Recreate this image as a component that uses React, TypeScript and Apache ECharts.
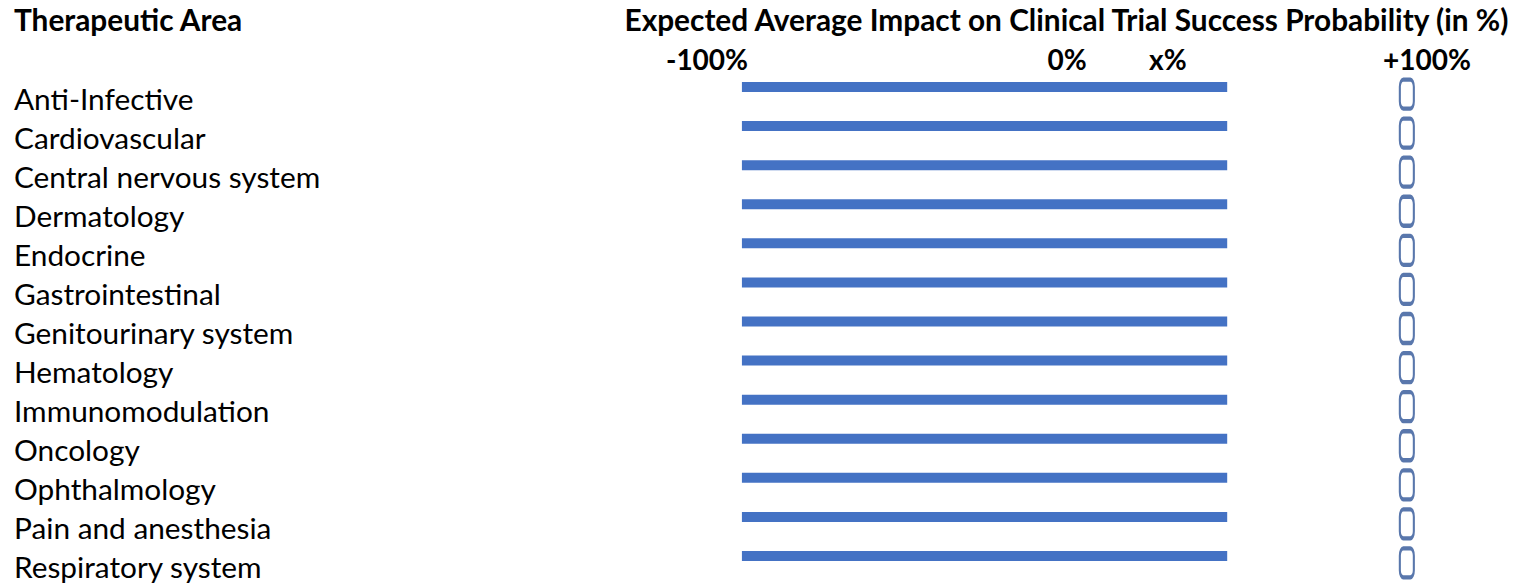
import React, { useEffect, useRef } from "react";
import * as echarts from "echarts";

const categories = [
  "Anti-Infective",
  "Cardiovascular",
  "Central nervous system",
  "Dermatology",
  "Endocrine",
  "Gastrointestinal",
  "Genitourinary system",
  "Hematology",
  "Immunomodulation",
  "Oncology",
  "Ophthalmology",
  "Pain and anesthesia",
  "Respiratory system",
];
const barStart = [-90.3, -90.3, -90.3, -90.3, -90.3, -90.3, -90.3, -90.3, -90.3, -90.3, -90.3, -90.3, -90.3];
const barEnd = [44.5, 44.5, 44.5, 44.5, 44.5, 44.5, 44.5, 44.5, 44.5, 44.5, 44.5, 44.5, 44.5];
const markerValues = [94.4, 94.4, 94.4, 94.4, 94.4, 94.4, 94.4, 94.4, 94.4, 94.4, 94.4, 94.4, 94.4];
const tickValues = [-100, 0, 28, 100];
const tickLabels = ["-100%", "0%", "x%", "+100%"];

const FONT = "Lato";

export default function App() {
  const ref = useRef<HTMLDivElement>(null);
  useEffect(() => {
    if (!ref.current) return;
    const chart = echarts.init(ref.current, null, { renderer: "svg" });
    chart.setOption({
      animation: false,
      backgroundColor: "#ffffff",
      title: [
        {
          text: "Therapeutic Area",
          left: 14,
          top: 4,
          padding: 0,
          textStyle: { fontFamily: FONT, fontSize: 29.8, fontWeight: "bold", color: "#000" },
        },
        {
          text: "Expected Average Impact on Clinical Trial Success Probability (in %)",
          right: 11,
          top: 4,
          padding: 0,
          textStyle: { fontFamily: FONT, fontSize: 29.8, fontWeight: "bold", color: "#000" },
        },
      ],
      grid: { left: 707, right: 95, top: 67.5, bottom: 10.5, containLabel: false },
      xAxis: {
        type: "value",
        position: "top",
        min: -100,
        max: 100,
        axisLine: { show: false },
        axisTick: { show: false },
        splitLine: { show: false },
        axisLabel: {
          customValues: tickValues,
          formatter: (v: number) => tickLabels[tickValues.indexOf(v)] ?? "",
          fontFamily: FONT,
          fontSize: 28,
          fontWeight: "bold",
          color: "#000",
          verticalAlign: "middle",
          margin: 8.5,
        },
      },
      yAxis: {
        type: "category",
        data: categories,
        inverse: true,
        axisLine: { show: false },
        axisTick: { show: false },
        splitLine: { show: false },
        axisLabel: {
          align: "left",
          verticalAlign: "top",
          lineHeight: 22,
          margin: 693,
          fontFamily: FONT,
          fontSize: 29.8,
          color: "#000",
        },
      },
      series: [
        {
          type: "custom",
          data: categories.map((_, i) => [i, barStart[i], barEnd[i]]),
          encode: { x: [1, 2], y: 0 },
          renderItem: (params: any, api: any) => {
            const idx = api.value(0);
            const p0 = api.coord([api.value(1), idx]);
            const p1 = api.coord([api.value(2), idx]);
            const h = 10;
            return {
              type: "rect",
              shape: { x: p0[0], y: p0[1] - h / 2, width: p1[0] - p0[0], height: h },
              style: { fill: "#4472C4" },
            };
          },
        },
        {
          type: "scatter",
          data: categories.map((_, i) => [markerValues[i], i]),
          symbol: "roundRect",
          symbolSize: [14, 29],
          symbolOffset: [0, 7],
          itemStyle: { color: "#ffffff", borderColor: "#2F5597", borderWidth: 3 },
        },
      ],
    });
    return () => chart.dispose();
  }, []);
  return (
    <div
      ref={ref}
      style={{ position: "absolute", left: 0, top: 0, width: 1522, height: 586 }}
    />
  );
}
